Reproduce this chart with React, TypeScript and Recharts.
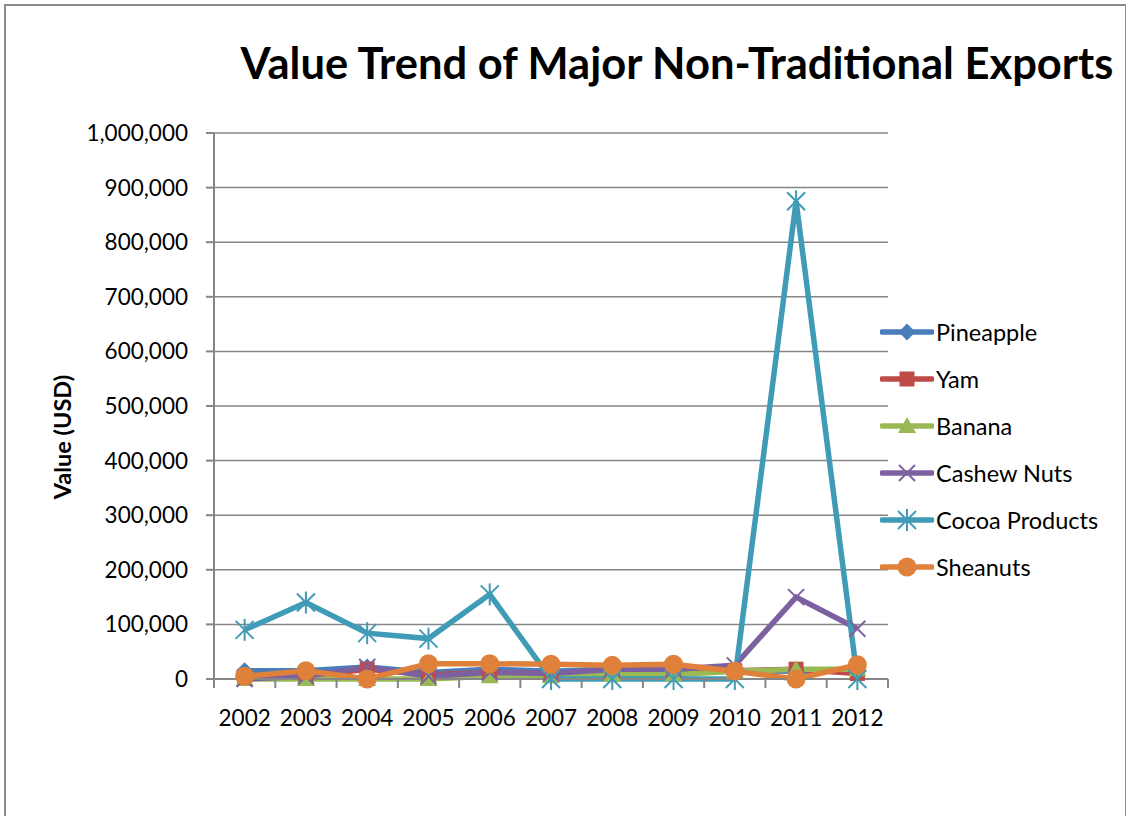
import React from 'react';
import { LineChart, Line, XAxis, YAxis, CartesianGrid, Legend } from 'recharts';

const years = ['2002', '2003', '2004', '2005', '2006', '2007', '2008', '2009', '2010', '2011', '2012'];
const pineapple = [15000, 15000, 22000, 12000, 18000, 14000, 18000, 17000, 15000, 14000, 15000];
const yam = [5000, 5000, 18000, 8000, 12000, 10000, 12000, 12000, 15000, 18000, 10000];
const banana = [0, 0, 0, 0, 5000, 5000, 8000, 8000, 14000, 18000, 18000];
const cashewNuts = [0, 5000, 22000, 5000, 12000, 10000, 18000, 18000, 25000, 150000, 92000];
const cocoaProducts = [90000, 140000, 84000, 74000, 155000, 0, 0, 0, 0, 875000, 0];
const sheanuts = [5000, 15000, 0, 28000, 28000, 27000, 25000, 27000, 14000, 0, 26000];
const yTicks = [0, 100000, 200000, 300000, 400000, 500000, 600000, 700000, 800000, 900000, 1000000];

const data = years.map((year, i) => ({
  year,
  Pineapple: pineapple[i],
  Yam: yam[i],
  Banana: banana[i],
  'Cashew Nuts': cashewNuts[i],
  'Cocoa Products': cocoaProducts[i],
  Sheanuts: sheanuts[i],
}));

const FONT = 'Lato, "Open Sans", sans-serif';
const GRID = '#868686';

// marker shapes, Excel style
const drawMarker = (kind: string, cx: number, cy: number, color: string, key?: any) => {
  switch (kind) {
    case 'diamond':
      return <path key={key} d={`M${cx},${cy - 8.5}L${cx + 8.5},${cy}L${cx},${cy + 8.5}L${cx - 8.5},${cy}Z`} fill={color} />;
    case 'square':
      return <rect key={key} x={cx - 7.5} y={cy - 7.5} width={15} height={15} fill={color} />;
    case 'triangle':
      return <path key={key} d={`M${cx},${cy - 9}L${cx + 9},${cy + 7}L${cx - 9},${cy + 7}Z`} fill={color} />;
    case 'x':
      return (
        <g key={key} stroke={color} strokeWidth={2}>
          <line x1={cx - 8} y1={cy - 8} x2={cx + 8} y2={cy + 8} />
          <line x1={cx - 8} y1={cy + 8} x2={cx + 8} y2={cy - 8} />
        </g>
      );
    case 'star':
      return (
        <g key={key} stroke={color} strokeWidth={2}>
          <line x1={cx - 9} y1={cy - 9} x2={cx + 9} y2={cy + 9} />
          <line x1={cx - 9} y1={cy + 9} x2={cx + 9} y2={cy - 9} />
          <line x1={cx} y1={cy - 11} x2={cx} y2={cy + 11} />
        </g>
      );
    default:
      return <circle key={key} cx={cx} cy={cy} r={9.5} fill={color} />;
  }
};

const series = [
  { key: 'Pineapple', color: '#4A7EBB', marker: 'diamond' },
  { key: 'Yam', color: '#BE4B48', marker: 'square' },
  { key: 'Banana', color: '#98B954', marker: 'triangle' },
  { key: 'Cashew Nuts', color: '#7D60A0', marker: 'x' },
  { key: 'Cocoa Products', color: '#409CB6', marker: 'star' },
  { key: 'Sheanuts', color: '#DF813A', marker: 'circle' },
];

const makeDot = (kind: string, color: string) => (props: any) => {
  const { cx, cy, index } = props;
  if (cx == null || cy == null) return <g key={`e${index}`} />;
  return drawMarker(kind, cx, cy, color, `${kind}-${index}`);
};

// x tick: label plus Excel-style tick marks between categories
const STEP = 61.27;
const XTick = (props: any) => {
  const { x, y, payload, index } = props;
  const axisY = y - 8;
  return (
    <g>
      <line x1={x - STEP / 2} y1={axisY} x2={x - STEP / 2} y2={axisY + 9} stroke={GRID} strokeWidth={2} />
      {index === years.length - 1 && (
        <line x1={x + STEP / 2} y1={axisY} x2={x + STEP / 2} y2={axisY + 9} stroke={GRID} strokeWidth={2} />
      )}
      <text x={x} y={axisY + 47} textAnchor="middle" fontSize={22.5} fontFamily={FONT} fill="#000">
        {payload.value}
      </text>
    </g>
  );
};

const renderLegend = () => (
  <div style={{ fontFamily: FONT, fontSize: 23.5, color: '#000' }}>
    {series.map((s) => (
      <div key={s.key} style={{ display: 'flex', alignItems: 'center', height: 47 }}>
        <svg width={54} height={24}>
          <line x1={2} y1={12} x2={52} y2={12} stroke={s.color} strokeWidth={5.5} strokeLinecap="round" />
          {drawMarker(s.marker, 27, 12, s.color)}
        </svg>
        <span style={{ marginLeft: 2 }}>{s.key}</span>
      </div>
    ))}
  </div>
);

export default function App() {
  return (
    <div style={{ position: 'absolute', left: 0, top: 0, width: 1126, height: 816, overflow: 'hidden', background: '#fff' }}>
      <div style={{ position: 'absolute', left: 4, top: 4, width: 1119, height: 840, border: '2px solid #8c8c8c' }} />
      <div
        style={{
          position: 'absolute', left: 227, top: 36, width: 900, textAlign: 'center',
          fontFamily: FONT, fontWeight: 'bold', fontSize: 43.5, color: '#000', whiteSpace: 'nowrap',
        }}
      >
        Value Trend of Major Non-Traditional Exports
      </div>
      <div
        style={{
          position: 'absolute', left: 62, top: 437, transform: 'translate(-50%, -50%) rotate(-90deg)',
          fontFamily: FONT, fontWeight: 'bold', fontSize: 23.5, whiteSpace: 'nowrap', color: '#000',
        }}
      >
        Value (USD)
      </div>
      <div style={{ position: 'absolute', left: 0, top: 0 }}>
        <LineChart width={1126} height={816} data={data} margin={{ top: 133, right: 238, bottom: 107, left: 0 }}>
          <CartesianGrid vertical={false} stroke={GRID} strokeWidth={1.5} />
          <XAxis
            dataKey="year"
            height={30}
            padding={{ left: STEP / 2, right: STEP / 2 }}
            stroke={GRID}
            strokeWidth={2}
            tickLine={false}
            tick={<XTick />}
            interval={0}
          />
          <YAxis
            width={214}
            domain={[0, 1000000]}
            ticks={yTicks}
            interval={0}
            stroke={GRID}
            strokeWidth={2}
            tickSize={8}
            tickMargin={18}
            tickFormatter={(v: number) => v.toLocaleString('en-US')}
            tick={{ fontSize: 22.5, fontFamily: FONT, fill: '#000' }}
          />
          <Legend
            layout="vertical"
            verticalAlign="middle"
            align="center"
            content={renderLegend}
            wrapperStyle={{ left: 880, top: 308, width: 244 }}
          />
          {series.map((s) => (
            <Line
              key={s.key}
              dataKey={s.key}
              stroke={s.color}
              strokeWidth={5.5}
              dot={makeDot(s.marker, s.color)}
              activeDot={false}
              isAnimationActive={false}
            />
          ))}
        </LineChart>
      </div>
    </div>
  );
}
